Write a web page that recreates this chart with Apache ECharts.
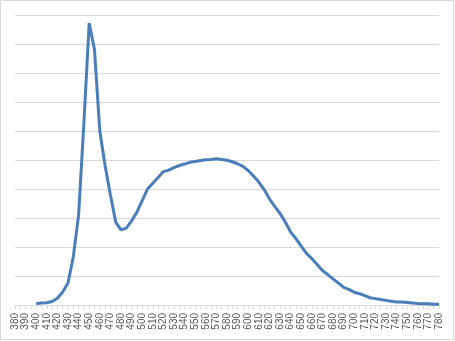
<!DOCTYPE html>
<html>
<head>
<meta charset="utf-8">
<script src="https://cdn.jsdelivr.net/npm/echarts@6/dist/echarts.min.js"></script>
<style>
html,body{margin:0;padding:0;background:#fff;}
#chart{width:455px;height:341px;}
</style>
</head>
<body>
<div id="chart"></div>
<script>
var wavelengths = ['380','385','390','395','400','405','410','415','420','425','430','435','440','445','450','455','460','465','470','475','480','485','490','495','500','505','510','515','520','525','530','535','540','545','550','555','560','565','570','575','580','585','590','595','600','605','610','615','620','625','630','635','640','645','650','655','660','665','670','675','680','685','690','695','700','705','710','715','720','725','730','735','740','745','750','755','760','765','770','775','780'];
var intensity = [null,null,null,null,0.005,0.007,0.008,0.012,0.023,0.045,0.076,0.166,0.31,0.628,0.972,0.88,0.60,0.48,0.38,0.286,0.259,0.265,0.29,0.32,0.36,0.40,0.42,0.44,0.46,0.465,0.474,0.481,0.486,0.492,0.495,0.498,0.501,0.502,0.504,0.502,0.499,0.494,0.487,0.478,0.464,0.445,0.424,0.398,0.366,0.34,0.316,0.286,0.252,0.229,0.203,0.178,0.16,0.14,0.119,0.105,0.09,0.076,0.061,0.054,0.044,0.039,0.032,0.025,0.022,0.019,0.016,0.013,0.010,0.010,0.009,0.007,0.005,0.004,0.004,0.003,0.003];

var chart = echarts.init(document.getElementById('chart'), null, {renderer:'canvas'});
chart.setOption({
  animation:false,
  backgroundColor:'#ffffff',
  graphic:[{type:'rect',shape:{x:0.5,y:0.5,width:453,height:339},style:{fill:'none',stroke:'#d9d9d9',lineWidth:1},silent:true}],
  grid:{left:15,right:16,top:15,bottom:36,containLabel:false},
  xAxis:{
    type:'category',
    data:wavelengths,
    boundaryGap:false,
    axisLine:{show:true,lineStyle:{color:'#d9d9d9',width:1}},
    axisTick:{show:true,interval:0,length:4,lineStyle:{color:'#d9d9d9'}},
    axisLabel:{interval:1,rotate:90,fontSize:10,color:'#595959',fontFamily:'Liberation Sans',margin:8}
  },
  yAxis:{
    type:'value',min:0,max:1,interval:0.1,
    axisLabel:{show:false},axisLine:{show:false},axisTick:{show:false},
    splitLine:{show:true,lineStyle:{color:'#d9d9d9',width:1}}
  },
  series:[{
    type:'line',data:intensity,showSymbol:false,symbol:'none',smooth:false,
    connectNulls:false,
    lineStyle:{color:'#4a7ebb',width:3}
  }]
});
</script>
</body>
</html>
